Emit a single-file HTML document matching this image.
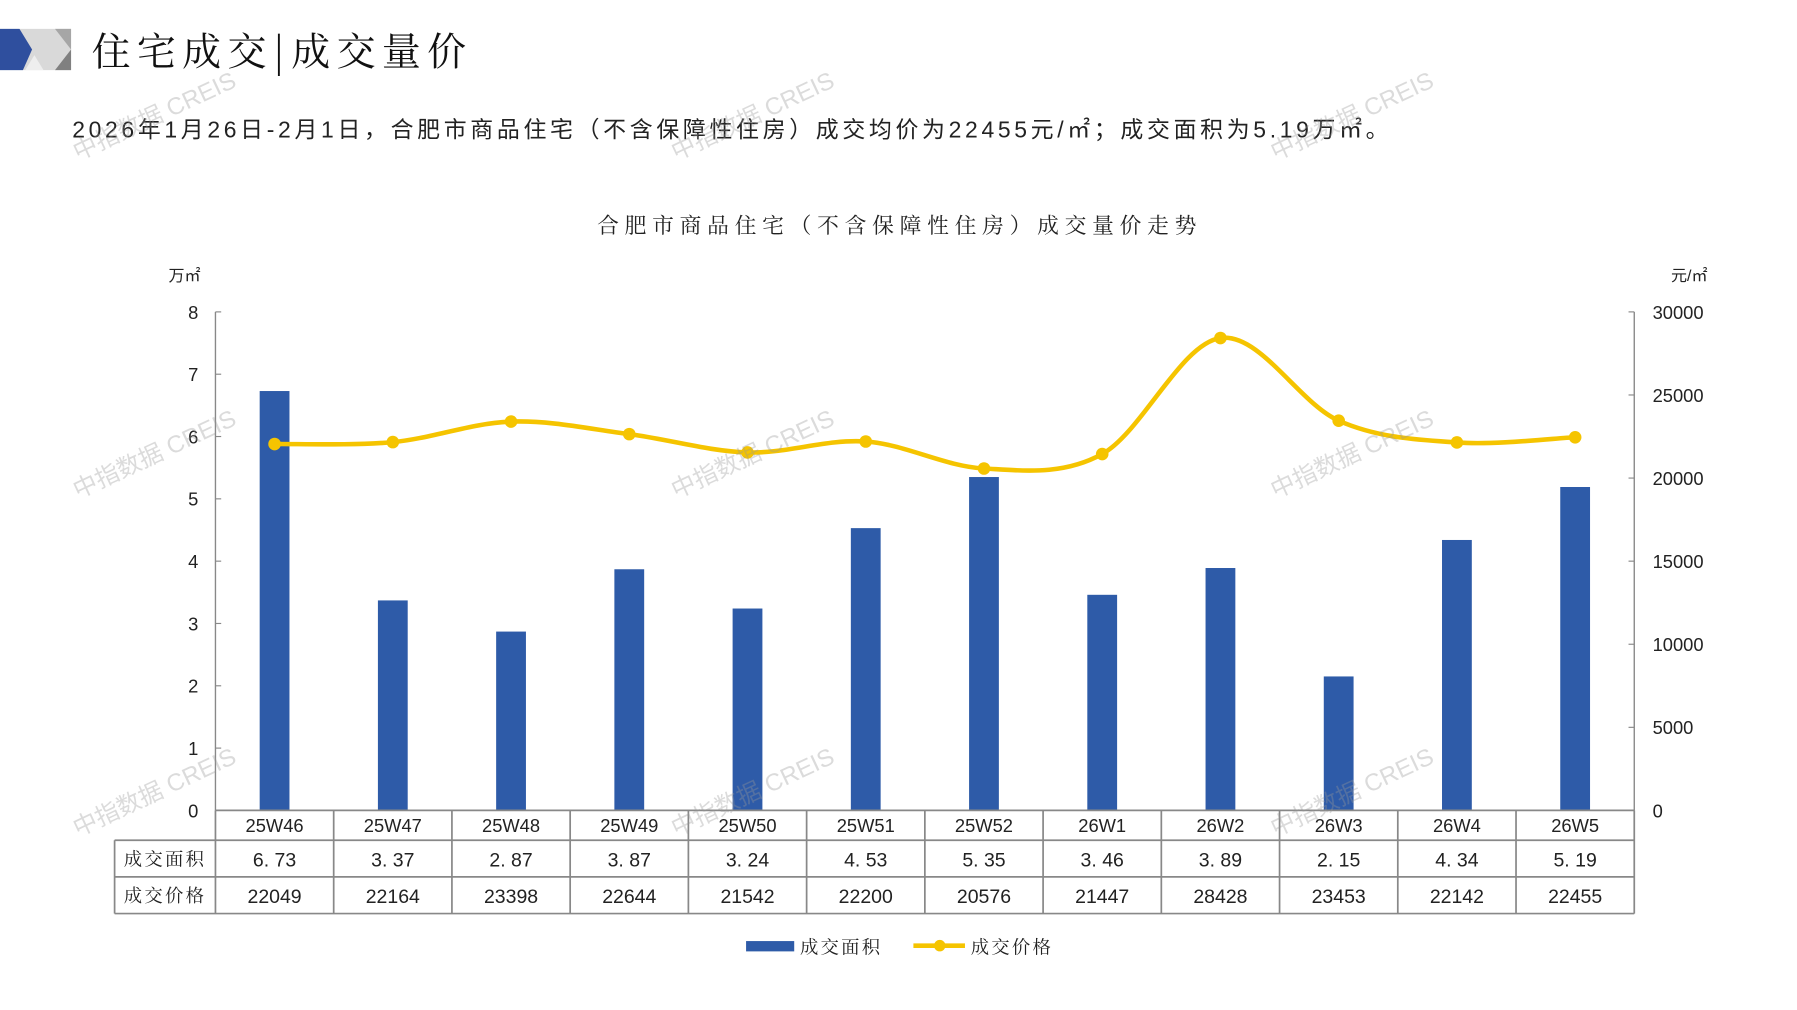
<!DOCTYPE html>
<html><head><meta charset="utf-8"><style>
html,body{margin:0;padding:0;background:#fff;}
svg{display:block;}
text{font-family:"Liberation Sans","Noto Sans CJK SC",sans-serif;}
.cjk{font-family:"Noto Serif CJK SC","Noto Sans CJK SC",serif;}
</style></head><body>
<svg id="s" width="1797" height="1010" viewBox="0 0 1568 881" xmlns="http://www.w3.org/2000/svg">
<rect width="1568" height="881" fill="#fff"/>
<polygon points="0,25 62,25 62,61 0,61" fill="#d9d9d9"/>
<polygon points="0,25 17,25 28,43 20,61 0,61" fill="#2f4f9e"/>
<polygon points="48,25 62,25 62,43" fill="#a6a6a6"/>
<polygon points="62,43 62,61 48,61" fill="#808080"/>
<polygon points="22,61 38,61 30,48" fill="#eeeeee"/>
<text x="80" y="57" font-size="34" class="cjk" fill="#111" letter-spacing="5.5">住宅成交|成交量价</text>
<text x="63" y="120" font-size="20" fill="#222" letter-spacing="3.2">2026年1月26日-2月1日，合肥市商品住宅（不含保障性住房）成交均价为22455元/㎡；成交面积为5.19万㎡。</text>
<text x="785" y="203" font-size="19" text-anchor="middle" fill="#222" class="cjk" letter-spacing="5">合肥市商品住宅（不含保障性住房）成交量价走势</text>
<text x="161" y="245" font-size="14" text-anchor="middle" fill="#222">万㎡</text>
<text x="1474" y="245" font-size="14" text-anchor="middle" fill="#222">元/㎡</text>
<g id="g"></g>
<rect x="651" y="821" width="42" height="9" fill="#2e5ba8"/>
<text x="698" y="832" font-size="16" fill="#222" class="cjk" letter-spacing="2">成交面积</text>
<line x1="797" y1="825" x2="842" y2="825" stroke="#f5c400" stroke-width="4"/>
<circle cx="820" cy="825" r="5" fill="#f5c400"/>
<text x="847" y="832" font-size="16" fill="#222" class="cjk" letter-spacing="2">成交价格</text>
<g id="wm"></g>
</svg>
<script>
(function(){
var g=document.getElementById('g'),h='';
var cats=["25W46","25W47","25W48","25W49","25W50","25W51","25W52","26W1","26W2","26W3","26W4","26W5"];
var area=[6.73,3.37,2.87,3.87,3.24,4.53,5.35,3.46,3.89,2.15,4.34,5.19];
var areaS=["6. 73","3. 37","2. 87","3. 87","3. 24","4. 53","5. 35","3. 46","3. 89","2. 15","4. 34","5. 19"];
var price=[22049,22164,23398,22644,21542,22200,20576,21447,28428,23453,22142,22455];
var L=188,R=1426,T=272,B=707,cw=(R-L)/12;
h+='<line x1="'+L+'" y1="'+T+'" x2="'+L+'" y2="'+B+'" stroke="#888" stroke-width="1.2"/>';
h+='<line x1="'+R+'" y1="'+T+'" x2="'+R+'" y2="'+B+'" stroke="#888" stroke-width="1.2"/>';
for(var i=0;i<=8;i++){var y=B-i*(B-T)/8;h+='<line x1="'+L+'" y1="'+y+'" x2="'+(L+5)+'" y2="'+y+'" stroke="#888"/>';
h+='<text x="173" y="'+(y+6)+'" font-size="16" text-anchor="end" fill="#222">'+i+'</text>';}
for(var i=0;i<=6;i++){var y=B-i*(B-T)/6;h+='<line x1="'+(R-5)+'" y1="'+y+'" x2="'+R+'" y2="'+y+'" stroke="#888"/>';
h+='<text x="1442" y="'+(y+6)+'" font-size="16" fill="#222">'+(i*5000)+'</text>';}
var pts=[];
for(var i=0;i<12;i++){var cx=L+cw*(i+.5),by=B-area[i]*(B-T)/8;
h+='<rect x="'+(cx-13)+'" y="'+by+'" width="26" height="'+(B-by)+'" fill="#2e5ba8"/>';
pts.push([cx,B-price[i]*(B-T)/30000]);}
var st='stroke="#888" stroke-width="1.5" fill="none"';
h+='<line x1="'+L+'" y1="'+B+'" x2="'+R+'" y2="'+B+'" '+st+'/>';
h+='<line x1="100" y1="733" x2="'+R+'" y2="733" '+st+'/>';
h+='<line x1="100" y1="765" x2="'+R+'" y2="765" '+st+'/>';
h+='<line x1="100" y1="797" x2="'+R+'" y2="797" '+st+'/>';
h+='<line x1="100" y1="733" x2="100" y2="797" '+st+'/>';
for(var i=0;i<=12;i++){var x=L+cw*i;h+='<line x1="'+x+'" y1="'+B+'" x2="'+x+'" y2="797" '+st+'/>';}
h+='<text x="144" y="755" font-size="16" text-anchor="middle" fill="#222" class="cjk" letter-spacing="2">成交面积</text>';
h+='<text x="144" y="787" font-size="16" text-anchor="middle" fill="#222" class="cjk" letter-spacing="2">成交价格</text>';
for(var i=0;i<12;i++){var cx=L+cw*(i+.5);
h+='<text x="'+cx+'" y="726" font-size="16" text-anchor="middle" fill="#222">'+cats[i]+'</text>';
h+='<text x="'+cx+'" y="756" font-size="17" text-anchor="middle" fill="#222">'+areaS[i]+'</text>';
h+='<text x="'+cx+'" y="788" font-size="17" text-anchor="middle" fill="#222">'+price[i]+'</text>';}
var d='M'+pts[0][0]+','+pts[0][1];
for(var i=0;i<11;i++){var p0=pts[Math.max(i-1,0)],p1=pts[i],p2=pts[i+1],p3=pts[Math.min(i+2,11)];
d+=' C'+(p1[0]+(p2[0]-p0[0])/6)+','+(p1[1]+(p2[1]-p0[1])/6)+' '+(p2[0]-(p3[0]-p1[0])/6)+','+(p2[1]-(p3[1]-p1[1])/6)+' '+p2[0]+','+p2[1];}
h+='<path d="'+d+'" stroke="#f5c400" stroke-width="4" fill="none"/>';
for(var i=0;i<12;i++)h+='<circle cx="'+pts[i][0]+'" cy="'+pts[i][1]+'" r="5.5" fill="#f5c400"/>';
g.innerHTML=h;
var w='';var xs=[68,590,1113],ys=[140,435,730];
xs.forEach(function(x){ys.forEach(function(y){w+='<text x="'+x+'" y="'+y+'" font-size="21" fill="#999" fill-opacity="0.35" transform="rotate(-25 '+x+' '+y+')">中指数据 CREIS</text>';});});
document.getElementById('wm').innerHTML=w;
})();
</script>
</body></html>
